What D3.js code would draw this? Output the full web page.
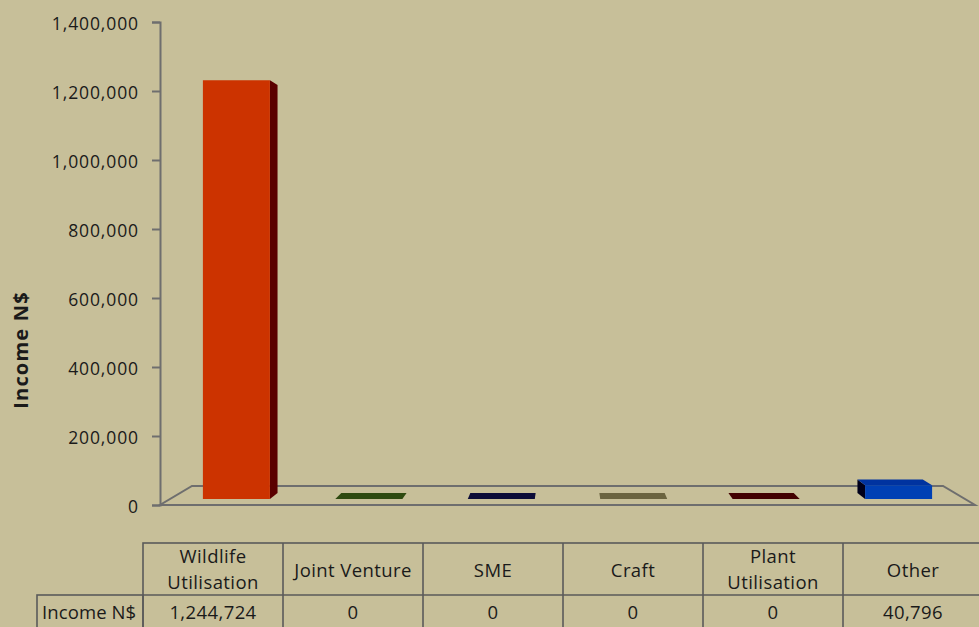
<!DOCTYPE html>
<html>
<head>
<meta charset="utf-8">
<script src="https://cdn.jsdelivr.net/npm/d3@7"></script>
<style>
  html, body { margin: 0; padding: 0; background: #c7bf99; }
  svg { display: block; }
  text { font-family: "Open Sans", Lato, sans-serif; fill: #1a1a1a; }
</style>
</head>
<body>
<svg id="chart" width="979" height="627"></svg>
<script>
// Income by source
const categories = ["Wildlife Utilisation", "Joint Venture", "SME", "Craft", "Plant Utilisation", "Other"];
const headerLines = [["Wildlife", "Utilisation"], ["Joint Venture"], ["SME"], ["Craft"], ["Plant", "Utilisation"], ["Other"]];
const income = [1244724, 0, 0, 0, 0, 40796];
const yTicks = [0, 200000, 400000, 600000, 800000, 1000000, 1200000, 1400000];
const seriesName = "Income N$";

// face colours per bar: front, side, top
const faceColors = [
  { front: "#cc3300", side: "#5a0000", top: "#a32800" },
  { front: "#3b5a16", side: "#1c2c0a", top: "#2e4a10" },
  { front: "#15154a", side: "#05051c", top: "#0c0c38" },
  { front: "#7a7249", side: "#3d3922", top: "#6b6440" },
  { front: "#550000", side: "#220000", top: "#420000" },
  { front: "#0040b4", side: "#00001a", top: "#0033a0" }
];

const svg = d3.select("#chart");
const fmt = d3.format(",");

// front-plane scales
const y = d3.scaleLinear().domain([0, 1400000]).range([505, 22]);
const x = d3.scaleBand().domain(categories).range([160, 975])
  .paddingInner(0.494).paddingOuter(0.247);

// simple perspective toward a vanishing point
const V = [567.5, 263];
const proj = (X, Y, s) => [V[0] + (X - V[0]) * s, V[1] + (Y - V[1]) * s];
const sFloorBack = 0.9215, sBarFront = 0.975, sBarBack = 0.95;

// floor outline
const floorPts = [
  proj(160, y(0), 1), proj(975, y(0), 1),
  proj(975, y(0), sFloorBack), proj(160, y(0), sFloorBack)
];
svg.append("path")
  .attr("d", "M" + floorPts.map(p => p.join(",")).join("L") + "Z")
  .attr("fill", "none").attr("stroke", "#6e6e6e").attr("stroke-width", 2);

// bars as projected boxes
const line = pts => "M" + pts.map(p => p.join(",")).join("L") + "Z";
const bars = svg.append("g");
categories.forEach((c, i) => {
  const x0 = x(c), x1 = x(c) + x.bandwidth();
  const yt = y(income[i]), yb = y(0);
  const col = faceColors[i];
  const F = (X, Y) => proj(X, Y, sBarFront);
  const B = (X, Y) => proj(X, Y, sBarBack);
  if (x1 < V[0] && yt < yb) {
    bars.append("path").attr("d", line([F(x1, yt), B(x1, yt), B(x1, yb), F(x1, yb)])).attr("fill", col.side);
  }
  if (x0 > V[0] && yt < yb) {
    bars.append("path").attr("d", line([F(x0, yt), B(x0, yt), B(x0, yb), F(x0, yb)])).attr("fill", col.side);
  }
  if (yt > V[1]) {
    bars.append("path").attr("d", line([F(x0, yt), F(x1, yt), B(x1, yt), B(x0, yt)])).attr("fill", col.top);
  }
  if (yt < yb) {
    bars.append("path").attr("d", line([F(x0, yt), F(x1, yt), F(x1, yb), F(x0, yb)])).attr("fill", col.front);
  }
});

// value axis
const axis = svg.append("g").attr("transform", "translate(160,0)")
  .call(d3.axisLeft(y).tickValues(yTicks).tickFormat(fmt).tickSize(8).tickPadding(13));
axis.select(".domain").attr("stroke", "#6e6e6e").attr("stroke-width", 2);
axis.selectAll(".tick line").attr("stroke", "#6e6e6e").attr("stroke-width", 2);
axis.selectAll(".tick text")
  .attr("font-family", "'Open Sans', Lato, sans-serif")
  .attr("font-size", 17.5).attr("letter-spacing", 0.9)
  .attr("fill", "#1a1a1a").attr("dy", "0.45em");

// axis title
svg.append("text")
  .attr("transform", "translate(28,350) rotate(-90)")
  .attr("text-anchor", "middle")
  .attr("font-size", 20).attr("font-weight", "bold").attr("letter-spacing", 1.2)
  .text(seriesName);

// data table
const tbl = svg.append("g");
const colX = d3.scaleBand().domain(categories).range([143, 983]);
const hTop = 543, hBot = 595, rBot = 640;
const stroke = "#5a5a5a";
tbl.append("rect").attr("x", 143).attr("y", hTop).attr("width", 840).attr("height", rBot - hTop)
  .attr("fill", "none").attr("stroke", stroke).attr("stroke-width", 1.6);
tbl.append("rect").attr("x", 37).attr("y", hBot).attr("width", 106).attr("height", rBot - hBot)
  .attr("fill", "none").attr("stroke", stroke).attr("stroke-width", 1.6);
tbl.append("line").attr("x1", 143).attr("x2", 983).attr("y1", hBot).attr("y2", hBot)
  .attr("stroke", stroke).attr("stroke-width", 1.6);
categories.forEach((c, i) => {
  if (i > 0) {
    tbl.append("line").attr("x1", colX(c)).attr("x2", colX(c)).attr("y1", hTop).attr("y2", rBot)
      .attr("stroke", stroke).attr("stroke-width", 1.6);
  }
  const cx = colX(c) + colX.bandwidth() / 2;
  const lines = headerLines[i];
  const t = tbl.append("text").attr("text-anchor", "middle").attr("font-size", 18.5).attr("letter-spacing", 0.4);
  if (lines.length === 2) {
    t.append("tspan").attr("x", cx).attr("y", 563).text(lines[0]);
    t.append("tspan").attr("x", cx).attr("y", 589).text(lines[1]);
  } else {
    t.append("tspan").attr("x", cx).attr("y", 577).text(lines[0]);
  }
  tbl.append("text").attr("x", cx).attr("y", 619).attr("text-anchor", "middle")
    .attr("font-size", 18.5).attr("letter-spacing", 0.4).text(fmt(income[i]));
});
tbl.append("text").attr("x", 42).attr("y", 619).attr("font-size", 18.5).attr("letter-spacing", 0.1).text(seriesName);
</script>
</body>
</html>
